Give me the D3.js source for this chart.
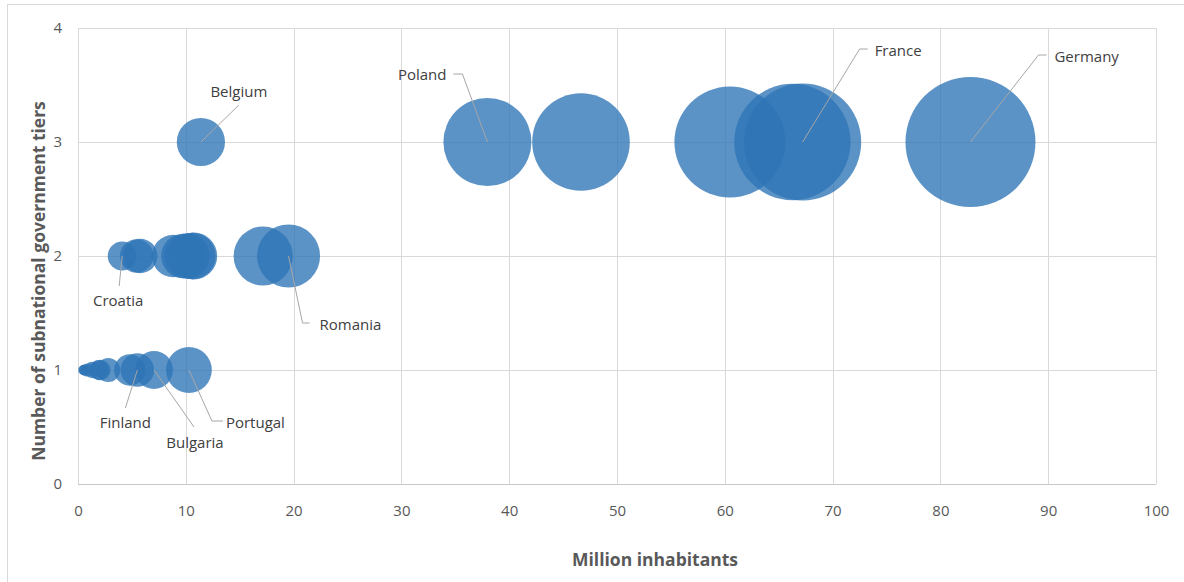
<!DOCTYPE html>
<html>
<head>
<meta charset="utf-8">
<script src="https://cdn.jsdelivr.net/npm/d3@7"></script>
<style>
  html, body { margin: 0; padding: 0; background: #fff; }
  svg { display: block; }
</style>
</head>
<body>
<svg id="chart" width="1184" height="582"></svg>
<script>
// ---- data ----
const countries = ["Malta","Luxembourg","Cyprus","Estonia","Latvia","Slovenia","Lithuania","Ireland","Finland","Bulgaria","Portugal",
                   "Croatia","Slovakia","Denmark","Austria","Hungary","Sweden","Czech Republic","Greece","Netherlands","Romania",
                   "Belgium","Poland","Spain","Italy","United Kingdom","France","Germany"];
const population = [0.48,0.6,0.86,1.32,1.93,2.07,2.81,4.8,5.51,7.05,10.29,
                    4.1,5.44,5.78,8.82,9.78,10.12,10.61,10.74,17.18,19.53,
                    11.4,37.98,46.66,60.48,66.27,67.22,82.79];
const tiers = [1,1,1,1,1,1,1,1,1,1,1,
               2,2,2,2,2,2,2,2,2,2,
               3,3,3,3,3,3,3];
const xTicks = [0,10,20,30,40,50,60,70,80,90,100];
const yTicks = [0,1,2,3,4];
const labelled = ["Belgium","Poland","France","Germany","Croatia","Romania","Finland","Bulgaria","Portugal"];

// ---- label layout (pixel offsets from the bubble centre) ----
const labelLayout = {
  Belgium:  {ex: 38,  ey: -37, hx: 0,   tx: 38,  ty: -45, anchor: "middle"},
  Poland:   {ex: -25, ey: -68, hx: -9,  tx: -41, ty: -62, anchor: "end"},
  France:   {ex: 57,  ey: -93, hx: 8,   tx: 72,  ty: -86, anchor: "start"},
  Germany:  {ex: 68,  ey: -87, hx: 8,   tx: 84,  ty: -80, anchor: "start"},
  Croatia:  {ex: -3,  ey: 30,  hx: 0,   tx: -4,  ty: 50,  anchor: "middle"},
  Romania:  {ex: 14,  ey: 67,  hx: 7,   tx: 31,  ty: 74,  anchor: "start"},
  Finland:  {ex: -12, ey: 38,  hx: 0,   tx: -12, ty: 58,  anchor: "middle"},
  Bulgaria: {ex: 40,  ey: 57,  hx: 0,   tx: 41,  ty: 78,  anchor: "middle"},
  Portugal: {ex: 23,  ey: 51,  hx: 11,  tx: 37,  ty: 58,  anchor: "start"}
};

const svg = d3.select("#chart");
const W = 1184, H = 582;
const plot = {left: 78, right: 1156, top: 28, bottom: 484};

// outer chart border
svg.append("rect")
  .attr("x", 7.5).attr("y", 4.5)
  .attr("width", W + 20).attr("height", H + 20)
  .attr("fill", "none").attr("stroke", "#d9d9d9").attr("stroke-width", 1);

const x = d3.scaleLinear().domain([0, 100]).range([plot.left, plot.right]);
const y = d3.scaleLinear().domain([0, 4]).range([plot.bottom, plot.top]);
const r = d3.scaleSqrt().domain([0, d3.max(population)]).range([0, 65]);

const font = "'Open Sans', 'Noto Sans', sans-serif";

// gridlines
const grid = svg.append("g");
grid.selectAll("line.v").data(xTicks).join("line")
  .attr("x1", d => Math.round(x(d)) + 0.5).attr("x2", d => Math.round(x(d)) + 0.5)
  .attr("y1", plot.top).attr("y2", plot.bottom)
  .attr("stroke", "#d9d9d9").attr("stroke-width", 1);
grid.selectAll("line.h").data(yTicks).join("line")
  .attr("x1", plot.left).attr("x2", plot.right)
  .attr("y1", d => Math.round(y(d)) + 0.5).attr("y2", d => Math.round(y(d)) + 0.5)
  .attr("stroke", d => d === 0 ? "#c8c8c8" : "#d9d9d9").attr("stroke-width", d => d === 0 ? 1.2 : 1);

// axes (tick labels only)
const xAxis = d3.axisBottom(x).tickValues(xTicks).tickFormat(d3.format("d")).tickSize(0).tickPadding(12);
const gx = svg.append("g").attr("transform", `translate(0,${plot.bottom + 9})`).call(xAxis);
gx.select(".domain").remove();
gx.selectAll("text").attr("fill", "#595959").style("font-family", font).style("font-size", "15px");

const yAxis = d3.axisLeft(y).tickValues(yTicks).tickFormat(d3.format("d")).tickSize(0).tickPadding(12);
const gy = svg.append("g").attr("transform", `translate(${plot.left - 4},0)`).call(yAxis);
gy.select(".domain").remove();
gy.selectAll("text").attr("fill", "#595959").style("font-family", font).style("font-size", "15px");

// bubbles
const data = countries.map((c, i) => ({name: c, pop: population[i], tiers: tiers[i]}));
svg.append("g").selectAll("circle").data(data).join("circle")
  .attr("cx", d => x(d.pop))
  .attr("cy", d => y(d.tiers))
  .attr("r", d => r(d.pop))
  .attr("fill", "#2E75B6")
  .attr("fill-opacity", 0.78);

// data labels with leader lines
const lab = svg.append("g");
data.filter(d => labelled.includes(d.name)).forEach(d => {
  const L = labelLayout[d.name];
  const cx = x(d.pop), cy = y(d.tiers);
  const pts = [[cx, cy], [cx + L.ex, cy + L.ey]];
  if (L.hx) pts.push([cx + L.ex + L.hx, cy + L.ey]);
  lab.append("path")
    .attr("d", d3.line()(pts))
    .attr("fill", "none").attr("stroke", "#a6a6a6").attr("stroke-width", 1);
  lab.append("text")
    .attr("x", cx + L.tx).attr("y", cy + L.ty)
    .attr("text-anchor", L.anchor)
    .attr("fill", "#404040")
    .style("font-family", font).style("font-size", "15px")
    .text(d.name);
});

// axis titles
svg.append("text")
  .attr("x", 655).attr("y", 566)
  .attr("text-anchor", "middle")
  .attr("fill", "#595959")
  .style("font-family", font).style("font-size", "17.5px").style("font-weight", "bold")
  .text("Million inhabitants");

svg.append("text")
  .attr("transform", "translate(45,281) rotate(-90)")
  .attr("text-anchor", "middle")
  .attr("fill", "#595959")
  .style("font-family", font).style("font-size", "17.5px").style("font-weight", "bold")
  .text("Number of subnational government tiers");
</script>
</body>
</html>
